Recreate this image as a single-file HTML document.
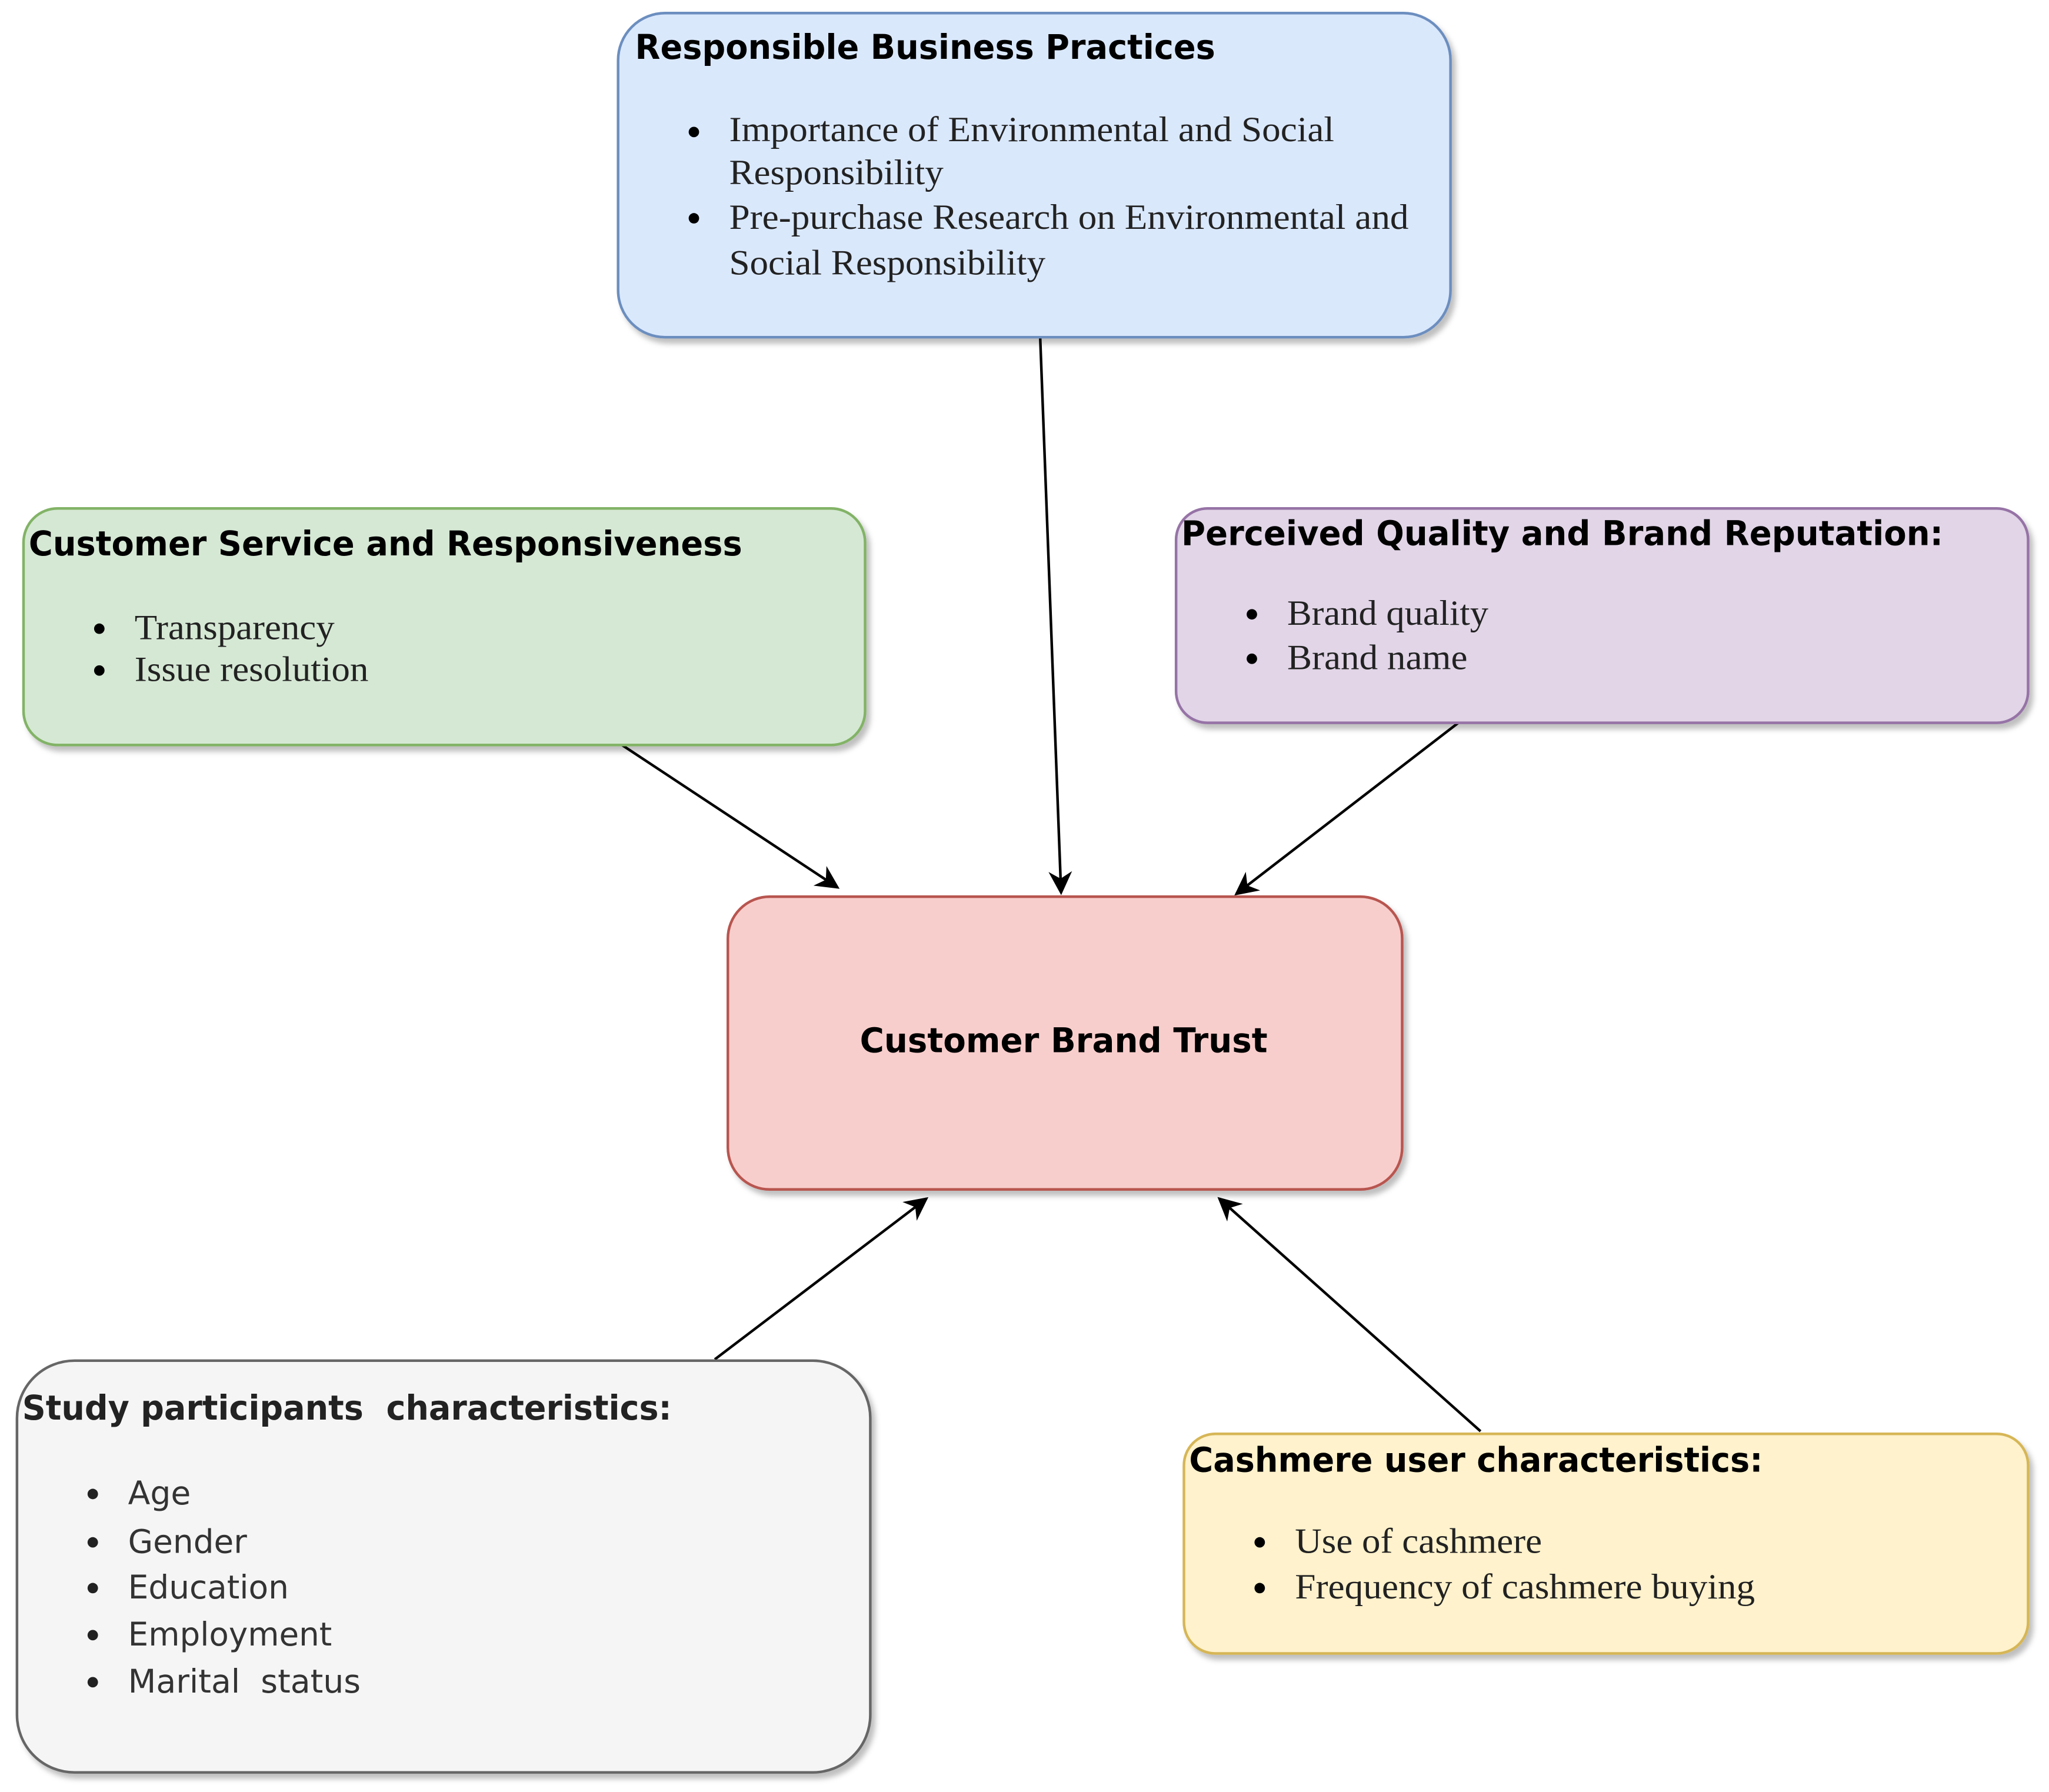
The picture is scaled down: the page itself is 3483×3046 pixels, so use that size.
<!DOCTYPE html>
<html><head><meta charset="utf-8"><style>
html,body{margin:0;padding:0;background:#fff;}
svg{display:block;}
.t{font-family:"DejaVu Sans","Liberation Sans",sans-serif;font-weight:bold;font-size:26px;fill:#000;}
.s{font-family:"Liberation Serif",serif;font-size:27px;fill:#222;}
.a{font-family:"DejaVu Sans","Liberation Sans",sans-serif;font-size:25px;fill:#333;}
</style></head><body>
<svg width="3483" height="3046" viewBox="0 0 1568 1371" preserveAspectRatio="none" xmlns="http://www.w3.org/2000/svg">
<defs>
<marker id="ar" viewBox="0 0 10 10" refX="9" refY="5" markerWidth="20" markerHeight="18" markerUnits="userSpaceOnUse" orient="auto">
<path d="M0,0 L10,5 L0,10 L3,5 z" fill="#000"/></marker>
<filter id="sh" x="-5%" y="-5%" width="115%" height="120%"><feDropShadow dx="3" dy="4" stdDeviation="2" flood-color="#000" flood-opacity="0.25"/></filter>
</defs>
<rect width="1568" height="1371" fill="#fff"/>
<g stroke="#000" stroke-width="2" fill="none">
<line x1="796" y1="258" x2="812" y2="683" marker-end="url(#ar)"/>
<line x1="476" y1="570" x2="641" y2="679" marker-end="url(#ar)"/>
<line x1="1116" y1="553" x2="946" y2="684" marker-end="url(#ar)"/>
<line x1="547" y1="1040" x2="709" y2="917" marker-end="url(#ar)"/>
<line x1="1133" y1="1095" x2="933" y2="917" marker-end="url(#ar)"/>
</g>
<g stroke-width="2" filter="url(#sh)">
<rect x="473" y="10" width="637" height="248" rx="36" fill="#dae8fc" stroke="#6c8ebf"/>
<rect x="18" y="389" width="644" height="181" rx="26" fill="#d5e8d4" stroke="#82b366"/>
<rect x="900" y="389" width="652" height="164" rx="24" fill="#e1d5e7" stroke="#9673a6"/>
<rect x="557" y="686" width="516" height="224" rx="32" fill="#f8cecc" stroke="#b85450"/>
<rect x="13" y="1041" width="653" height="315" rx="44" fill="#f5f5f5" stroke="#666666"/>
<rect x="906" y="1097" width="646" height="168" rx="24" fill="#fff2cc" stroke="#d6b656"/>
</g>
<text class="t" x="486" y="45" textLength="444" lengthAdjust="spacingAndGlyphs">Responsible Business Practices</text>
<circle cx="531" cy="101" r="4"/><circle cx="531" cy="167" r="4"/>
<text class="s" x="558" y="108" textLength="463" lengthAdjust="spacingAndGlyphs">Importance of Environmental and Social</text>
<text class="s" x="558" y="141" textLength="164" lengthAdjust="spacingAndGlyphs">Responsibility</text>
<text class="s" x="558" y="175" textLength="520" lengthAdjust="spacingAndGlyphs">Pre-purchase Research on Environmental and</text>
<text class="s" x="558" y="210" textLength="242" lengthAdjust="spacingAndGlyphs">Social Responsibility</text>
<text class="t" x="22" y="425" textLength="546" lengthAdjust="spacingAndGlyphs">Customer Service and Responsiveness</text>
<circle cx="76" cy="481" r="4"/><circle cx="76" cy="513" r="4"/>
<text class="s" x="103" y="489" textLength="153" lengthAdjust="spacingAndGlyphs">Transparency</text>
<text class="s" x="103" y="521" textLength="179" lengthAdjust="spacingAndGlyphs">Issue resolution</text>
<text class="t" x="904" y="417" textLength="583" lengthAdjust="spacingAndGlyphs">Perceived Quality and Brand Reputation:</text>
<circle cx="958" cy="470" r="4"/><circle cx="958" cy="504" r="4"/>
<text class="s" x="985" y="478" textLength="154" lengthAdjust="spacingAndGlyphs">Brand quality</text>
<text class="s" x="985" y="512" textLength="138" lengthAdjust="spacingAndGlyphs">Brand name</text>
<text class="t" x="658" y="805" textLength="312" lengthAdjust="spacingAndGlyphs">Customer Brand Trust</text>
<text class="t" x="17" y="1086" textLength="497" lengthAdjust="spacingAndGlyphs" style="fill:#222">Study participants&#160; characteristics:</text>
<g fill="#222"><circle cx="71" cy="1143" r="4"/><circle cx="71" cy="1180" r="4"/><circle cx="71" cy="1215" r="4"/><circle cx="71" cy="1251" r="4"/><circle cx="71" cy="1287" r="4"/></g>
<text class="a" x="98" y="1151" textLength="48" lengthAdjust="spacingAndGlyphs">Age</text>
<text class="a" x="98" y="1188" textLength="91" lengthAdjust="spacingAndGlyphs">Gender</text>
<text class="a" x="98" y="1223" textLength="123" lengthAdjust="spacingAndGlyphs">Education</text>
<text class="a" x="98" y="1259" textLength="156" lengthAdjust="spacingAndGlyphs">Employment</text>
<text class="a" x="98" y="1295" textLength="178" lengthAdjust="spacingAndGlyphs">Marital&#160; status</text>
<text class="t" x="910" y="1126" textLength="439" lengthAdjust="spacingAndGlyphs">Cashmere user characteristics:</text>
<circle cx="964" cy="1180" r="4"/><circle cx="964" cy="1215" r="4"/>
<text class="s" x="991" y="1188" textLength="189" lengthAdjust="spacingAndGlyphs">Use of cashmere</text>
<text class="s" x="991" y="1223" textLength="352" lengthAdjust="spacingAndGlyphs">Frequency of cashmere buying</text>
</svg>
</body></html>
